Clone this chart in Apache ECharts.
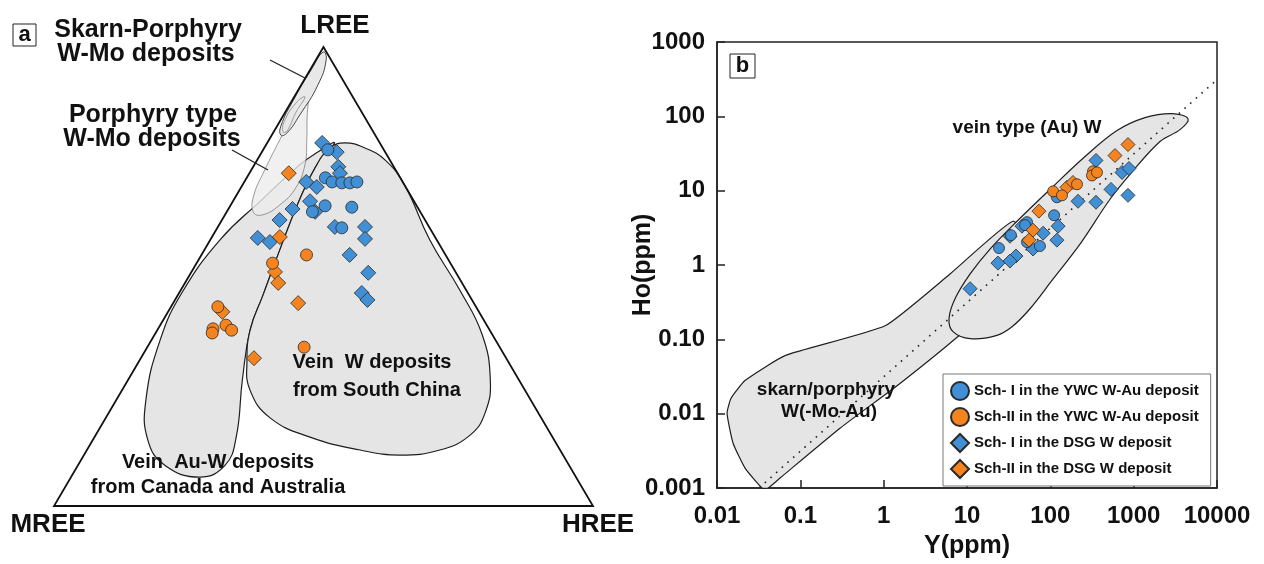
<!DOCTYPE html>
<html><head><meta charset="utf-8">
<script src="https://cdn.jsdelivr.net/npm/echarts@6.0.0/dist/echarts.min.js"></script>
<style>html,body{margin:0;padding:0;background:#fff}#c{width:1264px;height:564px}</style>
</head><body><div id="c"></div>
<script>
// ---------- names ----------
const nameYwcI = 'Sch- I in the YWC W-Au deposit';
const nameYwcII = 'Sch-II in the YWC W-Au deposit';
const nameDsgI = 'Sch- I in the DSG W deposit';
const nameDsgII = 'Sch-II in the DSG W deposit';

// ---------- panel a: ternary LREE-MREE-HREE (%), [LREE, MREE, HREE] ----------
const ternYwcI = [[77.6,10.4,12.0],[71.5,13.9,14.6],[70.6,13.1,16.3],[70.4,11.4,18.2],[70.4,9.9,19.7],[70.6,8.5,20.9],[64.1,20.0,15.9],[65.4,17.0,17.6],[65.1,12.2,22.7],[60.6,16.3,23.1]];
const ternYwcII = [[54.7,25.8,19.5],[52.9,33.0,14.1],[43.4,47.9,8.7],[38.6,51.2,10.2],[39.4,48.4,12.2],[38.3,47.9,13.8],[37.7,51.8,10.5],[34.6,36.3,29.1]];
const ternDsgI = [[79.1,10.7,10.2],[77.1,9.0,13.9],[73.9,10.3,15.8],[70.6,17.9,11.5],[69.5,16.5,14.0],[66.4,19.3,14.3],[64.1,19.5,16.4],[64.7,23.4,11.9],[62.3,27.0,10.7],[58.4,33.0,8.6],[57.5,31.2,11.3],[60.8,17.5,21.7],[60.8,11.9,27.3],[58.2,13.2,28.6],[54.7,17.8,27.5],[50.8,16.3,32.9],[46.4,19.7,33.9],[44.9,19.4,35.7],[72.5,10.7,16.8]];
const ternDsgII = [[72.5,20.2,7.3],[58.6,28.8,12.6],[51.0,33.5,15.5],[48.6,34.1,17.3],[44.2,32.6,23.2],[42.3,47.6,10.1],[32.2,46.8,21.0]];

// reference fields, [LREE, HREE] (%)
const fieldCanada = [[79.1,12.5],[77.1,10.4],[74.3,8.4],[66.7,5.2],[58.0,1.8],[46.4,0.5],[36.2,1.6],[23.1,5.5],[14.4,10.2],[8.9,16.1],[6.3,23.9],[8.9,27.3],[15.0,26.3],[27.5,21.2],[38.4,17.2],[46.0,15.8],[55.8,14.0],[66.0,12.3],[73.6,11.6]];
const fieldSouthChina = [[79.1,14.4],[78.0,18.7],[75.4,23.7],[69.9,30.1],[58.0,40.7],[47.1,51.7],[37.3,60.8],[27.5,67.2],[20.5,69.8],[15.5,69.5],[12.2,65.5],[11.1,58.6],[12.2,50.7],[15.0,40.0],[19.2,30.5],[25.3,23.7],[31.8,19.9],[38.4,17.2],[46.0,15.8],[55.8,14.0],[66.0,12.3],[73.6,11.6],[78.0,12.2]];
const fieldPorphyry = [[96.7,0.9],[91.7,2.0],[86.3,3.9],[79.8,7.0],[74.3,9.4],[69.3,10.2],[65.6,9.1],[63.4,6.9],[64.1,4.9],[67.8,3.2],[73.2,2.5],[79.8,2.0],[87.4,1.6],[93.3,1.3]];
const fieldSkarnPorphyry = [[98.9,0.5],[97.2,1.9],[91.7,3.1],[85.2,3.0],[81.3,2.6],[80.8,1.7],[82.8,0.7],[88.5,0.2],[95.0,0.2]];
const fieldSkarnInner = [[89.1,2.0],[85.8,2.0],[81.7,2.4],[81.5,1.75],[83.7,0.85],[87.8,1.0]];
const triangleVertices = [[100,0],[0,0],[0,100]]; // [LREE, HREE]

// ---------- panel b: Y vs Ho (ppm), [Y, Ho] ----------
const yhoYwcI = [[120,8.15],[111,4.67],[52.5,3.77],[33.7,2.52],[24.2,1.69],[52.5,2.03],[75,1.80],[49.7,3.44]];
const yhoYwcII = [[325,18.2],[316,16.0],[108,9.8],[138,8.65],[209,12.2],[363,17.6]];
const yhoDsgI = [[353,25.5],[725,17.6],[879,19.9],[535,10.4],[855,8.65],[215,7.2],[353,6.98],[124,3.33],[120,2.16],[82,2.68],[45.7,3.33],[32.8,2.44],[62,1.64],[38.7,1.32],[32.8,1.13],[23.5,1.06],[10.9,0.48]];
const yhoDsgII = [[855,41.7],[597,29.7],[158,11.1],[187,12.9],[73,5.3],[62,2.94],[55.5,2.16]];

const fieldVeinW = [[4487,93],[3597,66.2],[2070,45.8],[904,16.6],[520,7.66],[227,1.91],[108,0.650],[57.0,0.258],[34.7,0.148],[22.3,0.112],[10.9,0.102],[6.79,0.127],[6.08,0.189],[7.18,0.351],[10.9,0.759],[18.9,1.64],[39.8,3.88],[99.1,10.4],[261,28.8],[631,64.3],[1368,96.0],[2884,109]];
const fieldSkarnW = [[0.0347,0.001],[0.0217,0.00185],[0.0156,0.004],[0.0132,0.0101],[0.0147,0.016],[0.0217,0.0279],[0.0655,0.0604],[1.04,0.152],[6.25,0.757],[35.6,3.88],[57,1.64],[24.9,0.351],[7.8,0.109],[1.57,0.0255],[0.299,0.00637],[0.057,0.00136],[0.041,0.001]];
const chondriteLine = [[0.032,0.001],[10000,312]];

const xTickLabels = ['0.01','0.1','1','10','100','1000','10000'];
const yTickLabels = ['0.001','0.01','0.10','1','10','100','1000'];

// ---------- helpers ----------
const FONT = '"Liberation Sans", Arial, sans-serif';
const BLUE = '#4190d6', ORANGE = '#f5841f', EDGE = '#2a2a2a';
function tern(L, H) { return [H + L / 2, L]; }
function ternPt(p) { return tern(p[0], p[2]); }

function shapeSeries(points, gridIdx, style, smooth, closed, z) {
  const pts = points;
  return {
    type: 'custom', xAxisIndex: gridIdx, yAxisIndex: gridIdx, z: z, silent: true, clip: false,
    data: [pts[0]],
    renderItem: function (params, api) {
      return {
        type: closed ? 'polygon' : 'polyline',
        shape: { points: pts.map(p => api.coord(p)), smooth: smooth },
        style: style, silent: true
      };
    }
  };
}
const ternShape = (f, style, smooth, closed, z) => shapeSeries(f.map(p => tern(p[0], p[1])), 0, style, smooth, closed, z);

function scatter(name, data, gridIdx, symbol, color, size) {
  return {
    type: 'scatter', name: name, xAxisIndex: gridIdx, yAxisIndex: gridIdx, z: 5,
    symbol: symbol, symbolSize: size, data: data,
    itemStyle: { color: color, borderColor: EDGE, borderWidth: 0.8, opacity: 1 }
  };
}

function txt(text, x, y, size, extra) {
  return Object.assign({ type: 'text', x: x, y: y, z: 20, silent: true,
    style: { text: text, align: 'center', verticalAlign: 'middle', fill: '#111', font: 'bold ' + size + 'px ' + FONT } }, extra || {});
}

const fieldStyle = { fill: '#e5e5e5', stroke: '#1e1e1e', lineWidth: 1.2 };

const series = [
  // panel a fields
  ternShape(fieldCanada, fieldStyle, 0.45, true, 1),
  ternShape(fieldSouthChina, fieldStyle, 0.45, true, 1),
  ternShape(fieldPorphyry, { fill: 'rgba(236,236,236,0.8)', stroke: 'rgba(120,120,120,0.75)', lineWidth: 1 }, 0.45, true, 2),
  ternShape(fieldSkarnPorphyry, { fill: '#e8e8e8', stroke: '#444', lineWidth: 1 }, 0.5, true, 2),
  ternShape(fieldSkarnInner, { fill: 'none', stroke: '#9a9a9a', lineWidth: 1 }, 0.5, true, 2),
  ternShape(triangleVertices, { fill: 'none', stroke: '#111', lineWidth: 1.8 }, 0, true, 3),
  // panel b fields
  shapeSeries(fieldSkarnW, 1, { fill: '#e5e5e5', stroke: '#1e1e1e', lineWidth: 1.2 }, 0.15, true, 1),
  shapeSeries(fieldVeinW, 1, { fill: '#e5e5e5', stroke: '#1e1e1e', lineWidth: 1.2 }, 0.35, true, 1),
  {
    type: 'line', xAxisIndex: 1, yAxisIndex: 1, z: 3, silent: true, symbol: 'none',
    data: chondriteLine, lineStyle: { color: '#222', width: 1.6, type: [1.6, 6] }
  },
  // scatter points
  scatter(nameDsgI, ternDsgI.map(ternPt), 0, 'diamond', BLUE, 15),
  scatter(nameYwcI, ternYwcI.map(ternPt), 0, 'circle', BLUE, 12),
  scatter(nameDsgII, ternDsgII.map(ternPt), 0, 'diamond', ORANGE, 15),
  scatter(nameYwcII, ternYwcII.map(ternPt), 0, 'circle', ORANGE, 12),
  scatter(nameDsgI, yhoDsgI, 1, 'diamond', BLUE, 14),
  scatter(nameYwcI, yhoYwcI, 1, 'circle', BLUE, 11),
  scatter(nameDsgII, yhoDsgII, 1, 'diamond', ORANGE, 14),
  scatter(nameYwcII, yhoYwcII, 1, 'circle', ORANGE, 11)
];

const axisLabelStyle = { fontFamily: FONT, fontWeight: 'bold', fontSize: 24, color: '#111' };

const option = {
  animation: false,
  backgroundColor: '#fff',
  grid: [
    { left: 54, top: 47, width: 539, height: 459, show: false },
    { left: 717, top: 42, width: 500, height: 448, show: true, borderColor: '#222', borderWidth: 1.5, backgroundColor: 'transparent' }
  ],
  xAxis: [
    { type: 'value', gridIndex: 0, min: 0, max: 100, show: false },
    { type: 'log', gridIndex: 1, min: 0.01, max: 10000, logBase: 10,
      axisLine: { lineStyle: { color: '#222', width: 1.5 } },
      axisTick: { inside: true, length: 8, lineStyle: { color: '#222', width: 1.5 } },
      minorTick: { show: false }, splitLine: { show: false },
      axisLabel: Object.assign({ margin: 16, showMinLabel: true, showMaxLabel: true,
        formatter: v => xTickLabels[Math.round(Math.log10(v)) + 2] }, axisLabelStyle),
      name: 'Y(ppm)', nameLocation: 'middle', nameGap: 46, nameMoveOverlap: false,
      nameTextStyle: { fontFamily: FONT, fontWeight: 'bold', fontSize: 25, color: '#111' } }
  ],
  yAxis: [
    { type: 'value', gridIndex: 0, min: 0, max: 100, show: false },
    { type: 'log', gridIndex: 1, min: 0.001, max: 1000, logBase: 10,
      axisLine: { lineStyle: { color: '#222', width: 1.5 } },
      axisTick: { inside: true, length: 8, lineStyle: { color: '#222', width: 1.5 } },
      minorTick: { show: false }, splitLine: { show: false },
      axisLabel: Object.assign({ margin: 12, showMinLabel: true, showMaxLabel: true,
        formatter: v => yTickLabels[Math.round(Math.log10(v)) + 3] }, axisLabelStyle),
      name: 'Ho(ppm)', nameLocation: 'middle', nameGap: 61, nameMoveOverlap: false,
      nameTextStyle: { fontFamily: FONT, fontWeight: 'bold', fontSize: 25, color: '#111' } }
  ],
  legend: {
    data: [{ name: nameYwcI, icon: 'circle' }, { name: nameYwcII, icon: 'circle' },
           { name: nameDsgI, icon: 'diamond' }, { name: nameDsgII, icon: 'diamond' }],
    orient: 'vertical', left: 943, top: 374, itemWidth: 18, itemHeight: 18, itemGap: 6,
    padding: [7, 12, 7, 7], borderColor: '#777', borderWidth: 1, backgroundColor: '#fff',
    selectedMode: false, z: 10,
    textStyle: { fontFamily: FONT, fontWeight: 'bold', fontSize: 15, color: '#111' }
  },
  graphic: [
    { type: 'rect', z: 20, silent: true, shape: { x: 13, y: 24, width: 23, height: 22 }, style: { fill: '#fff', stroke: '#222', lineWidth: 1 } },
    txt('a', 24.5, 35, 22),
    txt('Skarn-Porphyry', 148, 30, 25),
    txt('W-Mo deposits', 146, 54, 25),
    txt('LREE', 335, 26, 26),
    txt('Porphyry type', 153, 115, 25),
    txt('W-Mo deposits', 152, 139, 25),
    { type: 'line', z: 20, silent: true, shape: { x1: 270, y1: 60, x2: 305, y2: 78 }, style: { stroke: '#222', lineWidth: 1.3 } },
    { type: 'line', z: 20, silent: true, shape: { x1: 232, y1: 150, x2: 268, y2: 170 }, style: { stroke: '#222', lineWidth: 1.3 } },
    txt('Vein  W deposits', 372, 362, 20),
    txt('from South China', 377, 390, 20),
    txt('Vein  Au-W deposits', 218, 462, 20),
    txt('from Canada and Australia', 218, 487, 20),
    txt('MREE', 48, 525, 26),
    txt('HREE', 598, 525, 26),
    { type: 'rect', z: 20, silent: true, shape: { x: 730, y: 54, width: 25, height: 24 }, style: { fill: '#fff', stroke: '#222', lineWidth: 1 } },
    txt('b', 742.5, 66, 22),
    txt('vein type (Au) W', 1027, 128, 19),
    txt('skarn/porphyry', 826, 390, 19),
    txt('W(-Mo-Au)', 829, 412, 19)
  ],
  series: series
};

const chart = echarts.init(document.getElementById('c'), null, { renderer: 'canvas', width: 1264, height: 564 });
chart.setOption(option);
</script>
</body></html>
